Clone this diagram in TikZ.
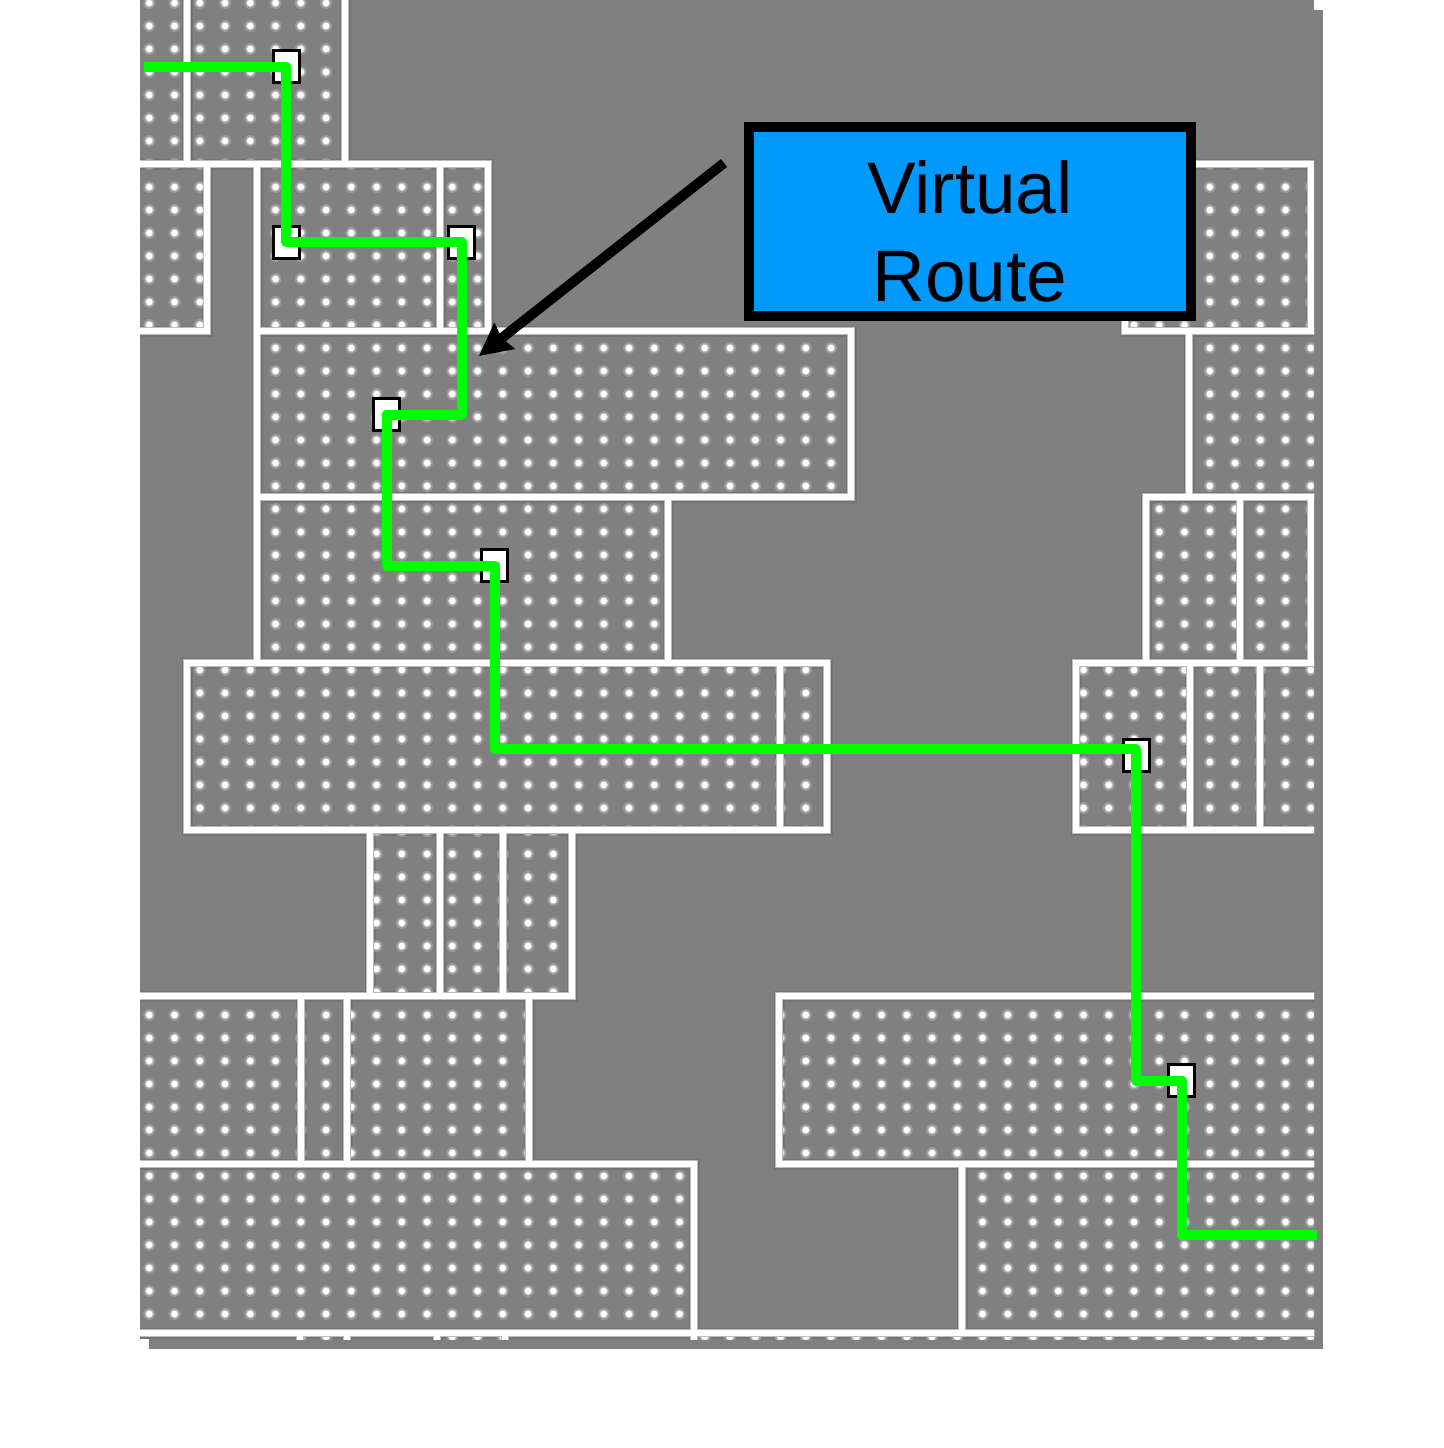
\documentclass[tikz,border=0pt]{standalone}
\usepackage{fontspec}
\setmainfont{Liberation Sans}
\usetikzlibrary{arrows.meta,patterns}

\definecolor{fieldgray}{HTML}{808080}
\definecolor{ringgray}{HTML}{747474}
\definecolor{halogray}{HTML}{BCBCBC}
\definecolor{dotgray}{HTML}{989898}
\definecolor{coregray}{HTML}{C4C4C4}
\definecolor{boxblue}{HTML}{0099FF}
\definecolor{routegreen}{HTML}{00FF00}

\pgfdeclarepatterninherentlycolored{viadots}
    {\pgfpoint{-6.3125pt}{-5.75pt}}{\pgfpoint{6.3125pt}{5.75pt}}{\pgfpoint{12.625pt}{11.5pt}}
    {
        \pgfsetfillcolor{dotgray}
        \pgfpathcircle{\pgfpoint{-1.1pt}{-2pt}}{3pt}
        \pgfusepath{fill}
        \pgfsetfillcolor{coregray}
        \pgfpathcircle{\pgfpoint{-1.1pt}{-2pt}}{2.2pt}
        \pgfusepath{fill}
        \pgfsetfillcolor{white}
        \pgfpathcircle{\pgfpoint{-1.1pt}{-2pt}}{1.6pt}
        \pgfusepath{fill}
    }

\newcommand{\blocklist}{
    110/-20/187/164, 187/-20/345/164,
    110/164/207/331, 257/164/440/331, 440/164/488/331, 1125/164/1311/331,
    257/331/851/497, 1189/331/1340/497,
    257/497/668/663, 1146/497/1240/663, 1240/497/1311/663,
    187/663/780/830, 780/663/827/830, 1076/663/1190/830, 1190/663/1260/830, 1260/663/1340/830,
    370/830/440/996, 440/830/503/996, 503/830/572/996,
    110/996/301/1164, 301/996/347/1164, 347/996/529/1164, 779/996/1340/1164,
    110/1164/694/1333, 962/1164/1340/1333,
    300/1333/347/1370, 437/1333/505/1370, 694/1333/1340/1370}

\tikzset{
    viabox/.style={rectangle, draw=black, fill=white, line width=1.5pt, minimum width=13pt, minimum height=16pt, inner sep=0pt},
    routeline/.style={draw=routegreen, line width=5pt, line join=round},
    calloutbox/.style={rectangle, draw=black, fill=boxblue, line width=5pt, minimum width=221pt, minimum height=94.5pt, inner sep=0pt},
    calloutlabel/.style={align=center, inner sep=0pt, font=\fontsize{36.5}{44}\selectfont},
    calloutarrow/.style={line width=5pt, -{Stealth[length=16pt, width=16pt, inset=1.5pt]}}
}

\begin{document}
\begin{tikzpicture}[x=0.5pt, y=-0.5pt]
    \useasboundingbox (0,0) rectangle (1444,1448);
    \fill[white] (0,0) rectangle (1444,1448);
    \fill[fieldgray] (149,10) rectangle (1323,1349);
    \fill[fieldgray] (140,0) rectangle (1314,1339);

    \begin{scope}
        \clip (140,0) rectangle (1314,1339);
        \foreach \xa/\ya/\xb/\yb in \blocklist
            \draw[ringgray, line width=5.5pt] (\xa,\ya) rectangle (\xb,\yb);
        \fill[pattern=viadots] \foreach \xa/\ya/\xb/\yb in \blocklist {(\xa,\ya) rectangle (\xb,\yb)};
        \foreach \xa/\ya/\xb/\yb in \blocklist
            \draw[halogray, line width=3.8pt] (\xa,\ya) rectangle (\xb,\yb);
        \foreach \xa/\ya/\xb/\yb in \blocklist
            \draw[white, line width=2.8pt] (\xa,\ya) rectangle (\xb,\yb);
    \end{scope}

    \node[viabox] (via1) at (286,66.5) {};
    \node[viabox] (via2) at (286,242) {};
    \node[viabox] (via3) at (461.5,242) {};
    \node[viabox] (via4) at (386.5,414.5) {};
    \node[viabox] (via5) at (494.5,565.5) {};
    \node[viabox] (via6) at (1136,755) {};
    \node[viabox] (via7) at (1181.5,1080.5) {};

    \coordinate (routein) at (144,66.5);
    \coordinate (routebend) at (1136,749);
    \coordinate (routeout) at (1317,1235);

    \draw[routeline] (routein) -- (via1.center) -- (via2.center) -- (via3.center) |- (via4.center)
        |- (via5.center) |- (routebend) |- (via7.center) |- (routeout);

    \node[calloutbox] (vrbox) at (970,221.5) {};
    \node[calloutlabel] (vrlabel) at (970,231) {Virtual\\Route};

    \coordinate (arrowfoot) at (724,163);
    \coordinate (arrowtip) at (479,356);
    \draw[calloutarrow] (arrowfoot) -- (arrowtip);
\end{tikzpicture}
\end{document}
